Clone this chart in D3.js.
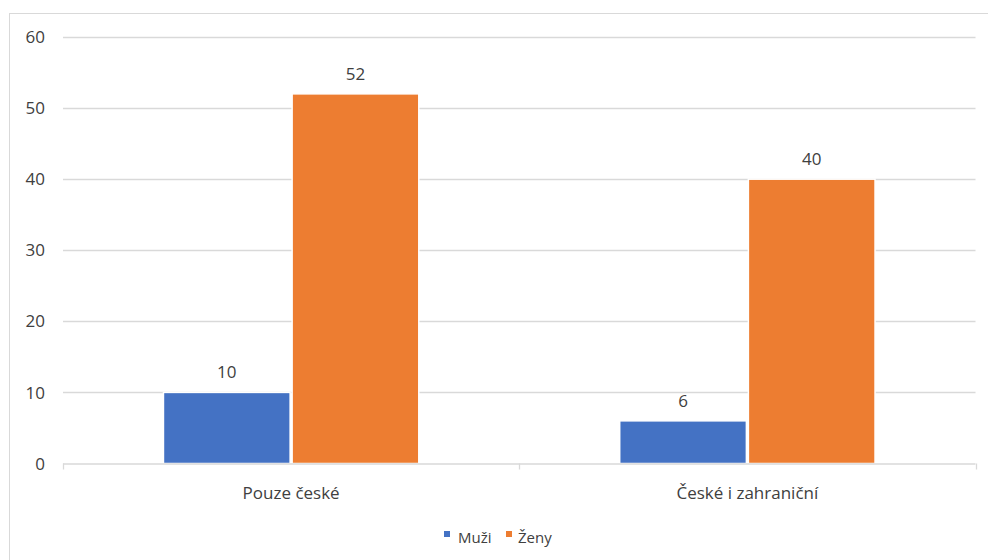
<!DOCTYPE html>
<html>
<head>
<meta charset="utf-8">
<script src="https://cdn.jsdelivr.net/npm/d3@7"></script>
<style>
  html, body { margin: 0; padding: 0; background: #fff; }
  svg { display: block; }
  text { font-family: "Open Sans", sans-serif; fill: #404040; }
</style>
</head>
<body>
<svg id="chart" width="988" height="560"></svg>
<script>
// Data
const categories = ["Pouze české", "České i zahraniční"];
const seriesNames = ["Muži", "Ženy"];
const muzi = [10, 6];
const zeny = [52, 40];
const yTicks = [0, 10, 20, 30, 40, 50, 60];
const colors = ["#4472C4", "#ED7D31"];

const seriesValues = [muzi, zeny];
const rows = categories.map((c, i) => ({
  category: c,
  values: seriesNames.map((s, j) => ({ series: s, value: seriesValues[j][i], idx: j }))
}));

const svg = d3.select("#chart");
const W = 988, H = 560;
const plot = { left: 63, right: 975.5, top: 37, bottom: 463.5 };

// Chart frame
svg.append("rect")
  .attr("x", 9.5).attr("y", 13.5)
  .attr("width", W + 10).attr("height", H + 10)
  .attr("fill", "#fff").attr("stroke", "#d9d9d9").attr("stroke-width", 1);

const x = d3.scaleBand()
  .domain(categories)
  .range([plot.left, plot.right])
  .paddingInner(0.436)
  .paddingOuter(0.218);

const xs = d3.scaleBand()
  .domain(seriesNames)
  .range([0, x.bandwidth()]);

const y = d3.scaleLinear()
  .domain([0, 60])
  .range([plot.bottom, plot.top]);

// Gridlines
svg.append("g")
  .selectAll("line")
  .data(yTicks.filter(t => t > 0))
  .join("line")
  .attr("x1", plot.left).attr("x2", plot.right)
  .attr("y1", d => Math.round(y(d)) + 0.5).attr("y2", d => Math.round(y(d)) + 0.5)
  .attr("stroke", "#d9d9d9").attr("stroke-width", 1.3);

// Y axis labels
svg.append("g")
  .selectAll("text")
  .data(yTicks)
  .join("text")
  .attr("x", 45)
  .attr("y", d => y(d))
  .attr("dy", "0.36em")
  .attr("text-anchor", "end")
  .style("font-size", "17px")
  .text(d => d);

// Bars
const groups = svg.append("g")
  .selectAll("g")
  .data(rows)
  .join("g")
  .attr("transform", d => `translate(${x(d.category)},0)`);

groups.selectAll("rect")
  .data(d => d.values)
  .join("rect")
  .attr("x", d => xs(d.series) + 1)
  .attr("width", xs.bandwidth() - 2)
  .attr("y", d => y(d.value))
  .attr("height", d => y(0) - y(d.value))
  .attr("fill", d => colors[d.idx])
  .attr("stroke", "#fff")
  .attr("stroke-width", 1.5);

// Value labels
groups.selectAll("text")
  .data(d => d.values)
  .join("text")
  .attr("x", d => xs(d.series) + xs.bandwidth() / 2)
  .attr("y", d => y(d.value) - 14)
  .attr("text-anchor", "middle")
  .style("font-size", "17px")
  .text(d => d.value);

// X axis line and tick marks
const xAxis = svg.append("g");
xAxis.append("line")
  .attr("x1", plot.left).attr("x2", plot.right)
  .attr("y1", plot.bottom + 0.5).attr("y2", plot.bottom + 0.5)
  .attr("stroke", "#d9d9d9").attr("stroke-width", 1.3);

const boundaries = [plot.left, ...categories.map(c => x(c) + x.bandwidth() / 2 + x.step() / 2)];
xAxis.selectAll("line.tick")
  .data(boundaries)
  .join("line")
  .attr("class", "tick")
  .attr("x1", d => Math.round(d) + 0.5).attr("x2", d => Math.round(d) + 0.5)
  .attr("y1", plot.bottom).attr("y2", plot.bottom + 6)
  .attr("stroke", "#d9d9d9").attr("stroke-width", 1.3);

xAxis.selectAll("text")
  .data(categories)
  .join("text")
  .attr("x", d => x(d) + x.bandwidth() / 2)
  .attr("y", 499)
  .attr("text-anchor", "middle")
  .style("font-size", "17px")
  .text(d => d);

// Legend
const legend = svg.append("g");
const legendItems = [
  { name: seriesNames[0], color: colors[0], sx: 444, tx: 458 },
  { name: seriesNames[1], color: colors[1], sx: 506, tx: 518 }
];
legend.selectAll("rect")
  .data(legendItems)
  .join("rect")
  .attr("x", d => d.sx).attr("y", 531)
  .attr("width", 6).attr("height", 6)
  .attr("fill", d => d.color);
legend.selectAll("text")
  .data(legendItems)
  .join("text")
  .attr("x", d => d.tx).attr("y", 543)
  .style("font-size", "15px")
  .text(d => d.name);
</script>
</body>
</html>
